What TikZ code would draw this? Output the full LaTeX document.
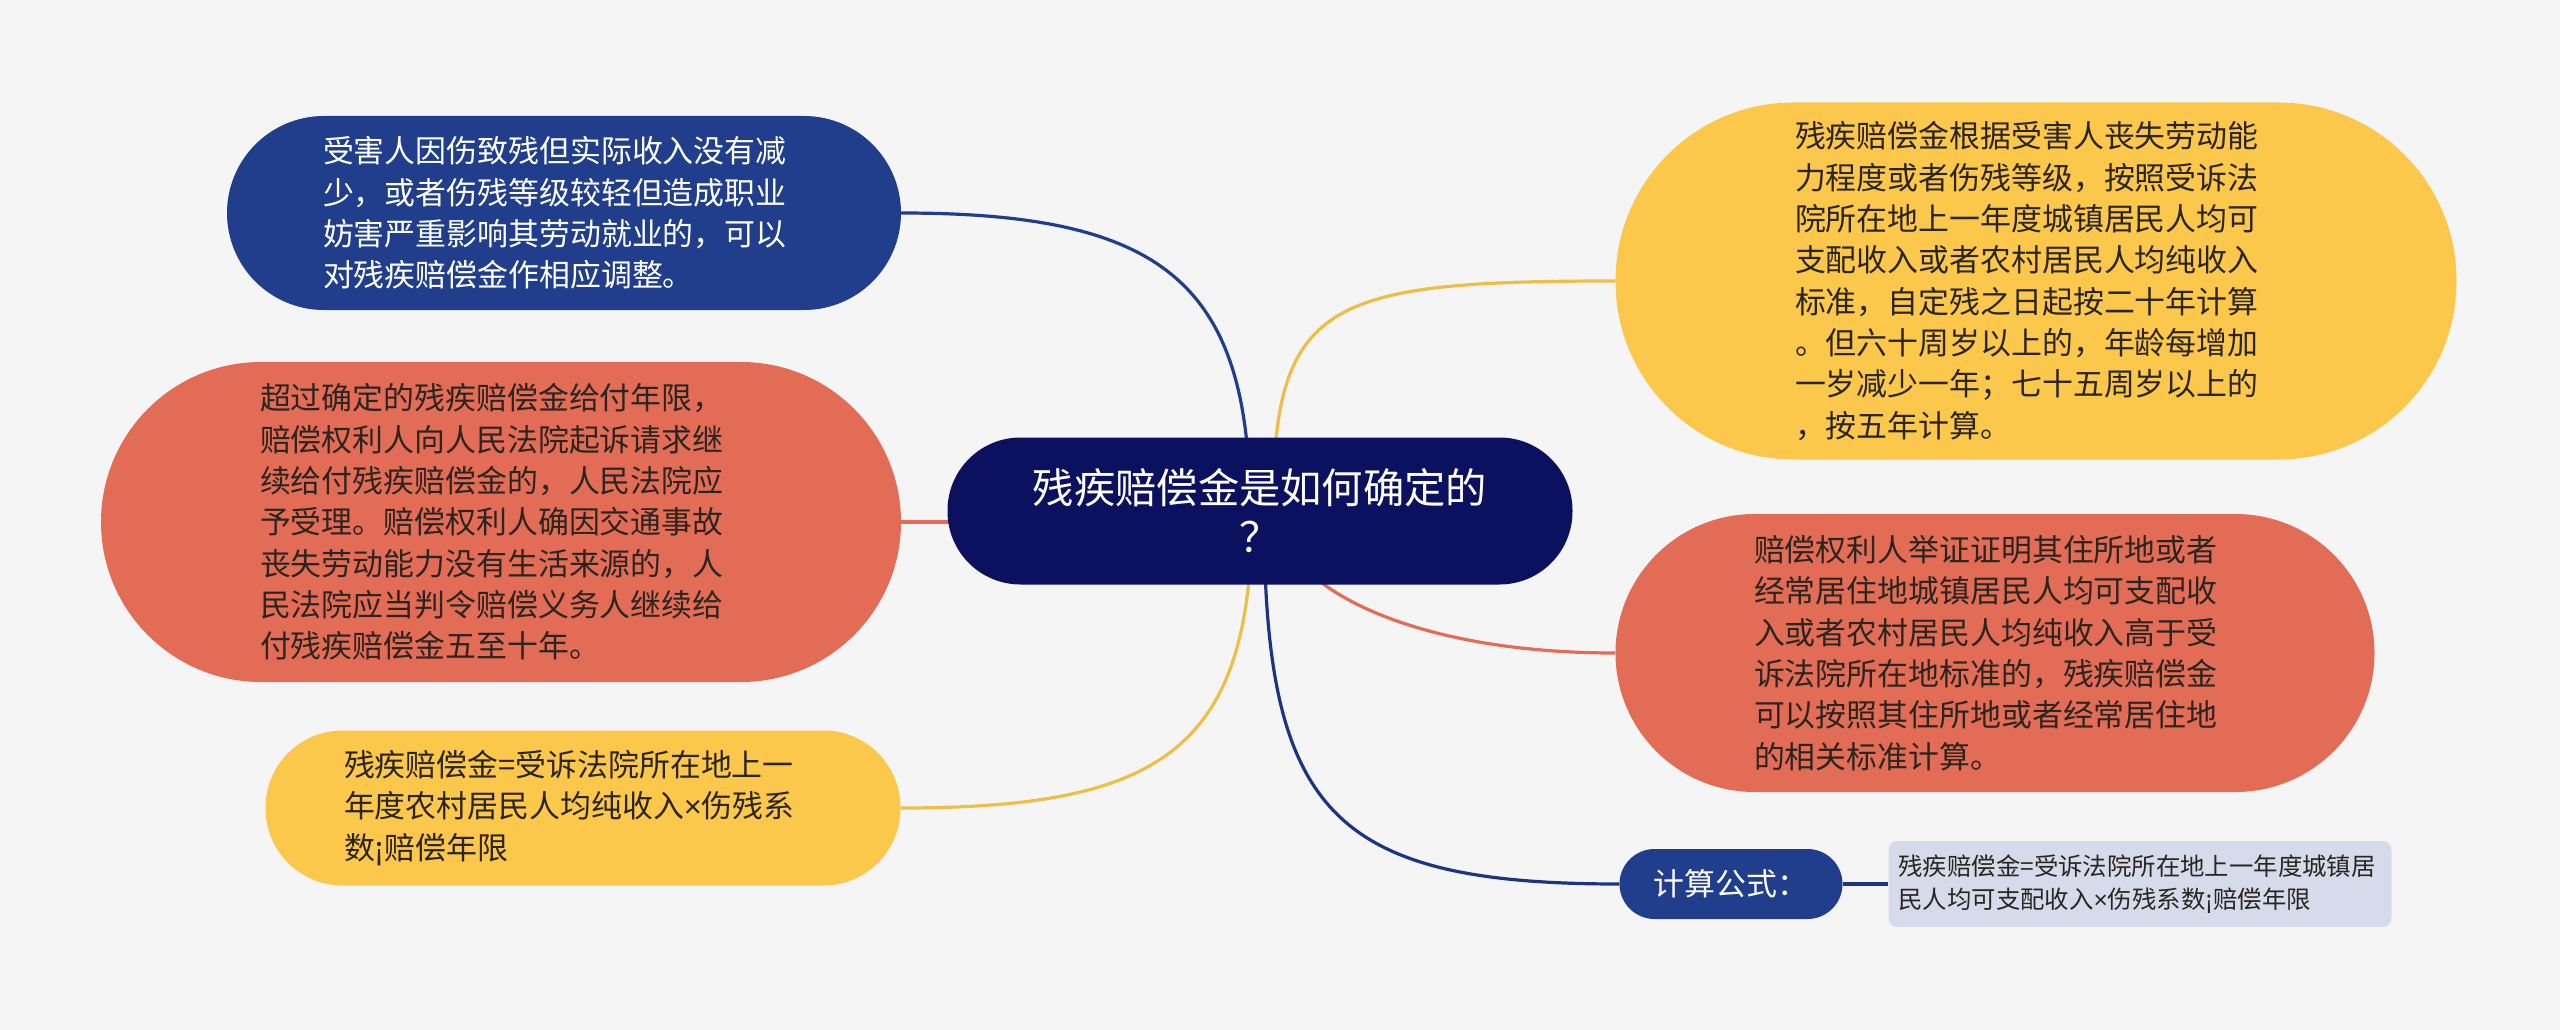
\documentclass[tikz,border=0pt]{standalone}
\usepackage{fontspec}
\setmainfont{Noto Sans CJK SC}
\newfontfamily\latf{Liberation Sans}
\usetikzlibrary{calc}
\pgfdeclarelayer{bg}
\pgfsetlayers{bg,main}
\definecolor{bgc}{HTML}{F5F5F5}
\definecolor{navy}{HTML}{0B115E}
\definecolor{mblue}{HTML}{203E8B}
\definecolor{mred}{HTML}{E36C56}
\definecolor{myel}{HTML}{FCC84B}
\definecolor{mgray}{HTML}{D5DBEA}
\definecolor{dtext}{HTML}{2B2520}
\newcommand{\tms}{{\latf ×}}
\begin{document}
\begin{tikzpicture}[x=1pt,y=-1pt,
  bubble/.style={rectangle, inner sep=0pt, align=left, text width=482pt,
    font=\fontsize{30.9}{41.3}\selectfont},
  conn/.style={line width=3.2pt}]
\begin{pgfonlayer}{bg}
\fill[bgc] (0,0) rectangle (2560,1030);
\end{pgfonlayer}
\useasboundingbox (0,0) rectangle (2560,1030);

% center
\node[rectangle, fill=navy, text=white, rounded corners=73pt, minimum width=625pt,
  minimum height=147pt, align=center, font=\fontsize{41.3}{49}\selectfont]
  (c) at (1260,511) {残疾赔偿金是如何确定的\\？};

% left nodes
\node[bubble, fill=mblue, text=white, rounded corners=97pt, minimum width=674pt,
  minimum height=194pt] (n1) at (564,213)
  {受害人因伤致残但实际收入没有减\\少，或者伤残等级较轻但造成职业\\妨害严重影响其劳动就业的，可以\\对残疾赔偿金作相应调整。};

\node[bubble, fill=mred, text=dtext, rounded corners=160pt, minimum width=800pt,
  minimum height=320pt] (n2) at (501,522)
  {超过确定的残疾赔偿金给付年限，\\赔偿权利人向人民法院起诉请求继\\续给付残疾赔偿金的，人民法院应\\予受理。赔偿权利人确因交通事故\\丧失劳动能力没有生活来源的，人\\民法院应当判令赔偿义务人继续给\\付残疾赔偿金五至十年。};

\node[bubble, fill=myel, text=dtext, rounded corners=77pt, minimum width=635pt,
  minimum height=155pt, text width=478pt] (n3) at (583,808)
  {残疾赔偿金=受诉法院所在地上一\\年度农村居民人均纯收入\tms 伤残系\\数¡赔偿年限};

% right nodes
\node[bubble, fill=myel, text=dtext, rounded corners=178pt, minimum width=841pt,
  minimum height=357pt] (r1) at (2036,281)
  {残疾赔偿金根据受害人丧失劳动能\\力程度或者伤残等级，按照受诉法\\院所在地上一年度城镇居民人均可\\支配收入或者农村居民人均纯收入\\标准，自定残之日起按二十年计算\\。但六十周岁以上的，年龄每增加\\一岁减少一年；七十五周岁以上的\\，按五年计算。};

\node[bubble, fill=mred, text=dtext, rounded corners=139pt, minimum width=759pt,
  minimum height=278pt] (r2) at (1995,653)
  {赔偿权利人举证证明其住所地或者\\经常居住地城镇居民人均可支配收\\入或者农村居民人均纯收入高于受\\诉法院所在地标准的，残疾赔偿金\\可以按照其住所地或者经常居住地\\的相关标准计算。};

\node[rectangle, fill=mblue, text=white, rounded corners=35pt, minimum width=223pt,
  minimum height=70pt, font=\fontsize{30.9}{41.3}\selectfont] (cp) at (1731,884) {计算公式：};

\node[rectangle, fill=mgray, text=dtext, rounded corners=9pt, minimum width=503pt,
  minimum height=86pt, inner sep=0pt, align=left, text width=483pt,
  font=\fontsize{24.4}{32.6}\selectfont] (fm) at (2140,884)
  {残疾赔偿金=受诉法院所在地上一年度城镇居\\民人均可支配收入\tms 伤残系数¡赔偿年限};

% connectors
\begin{pgfonlayer}{bg}
\draw[conn, mblue] (n1.east) .. controls +(260,0) and +(0,-230) .. ($(c.center)+(-10,0)$);
\draw[conn, mred] (n2.east) -- (n2.east -| c.center);
\draw[conn, myel!95!black] (n3.east) .. controls +(260,0) and +(0,240) .. ($(c.center)+(-8,0)$);
\draw[conn, myel!95!black] (r1.west) .. controls +(-290,0) and +(0,-210) .. ($(c.center)+(13,0)$);
\draw[conn, mred] (r2.west) .. controls +(-230,0) and +(-10,40) .. ($(c.center)+(30,20)$);
\draw[conn, mblue!80!navy] (cp.west) .. controls +(-290,0) and +(0,300) .. ($(c.center)+(4,0)$);
\draw[conn, mblue!80!navy] (cp.east) -- (fm.west);
\end{pgfonlayer}
\end{tikzpicture}
\end{document}
